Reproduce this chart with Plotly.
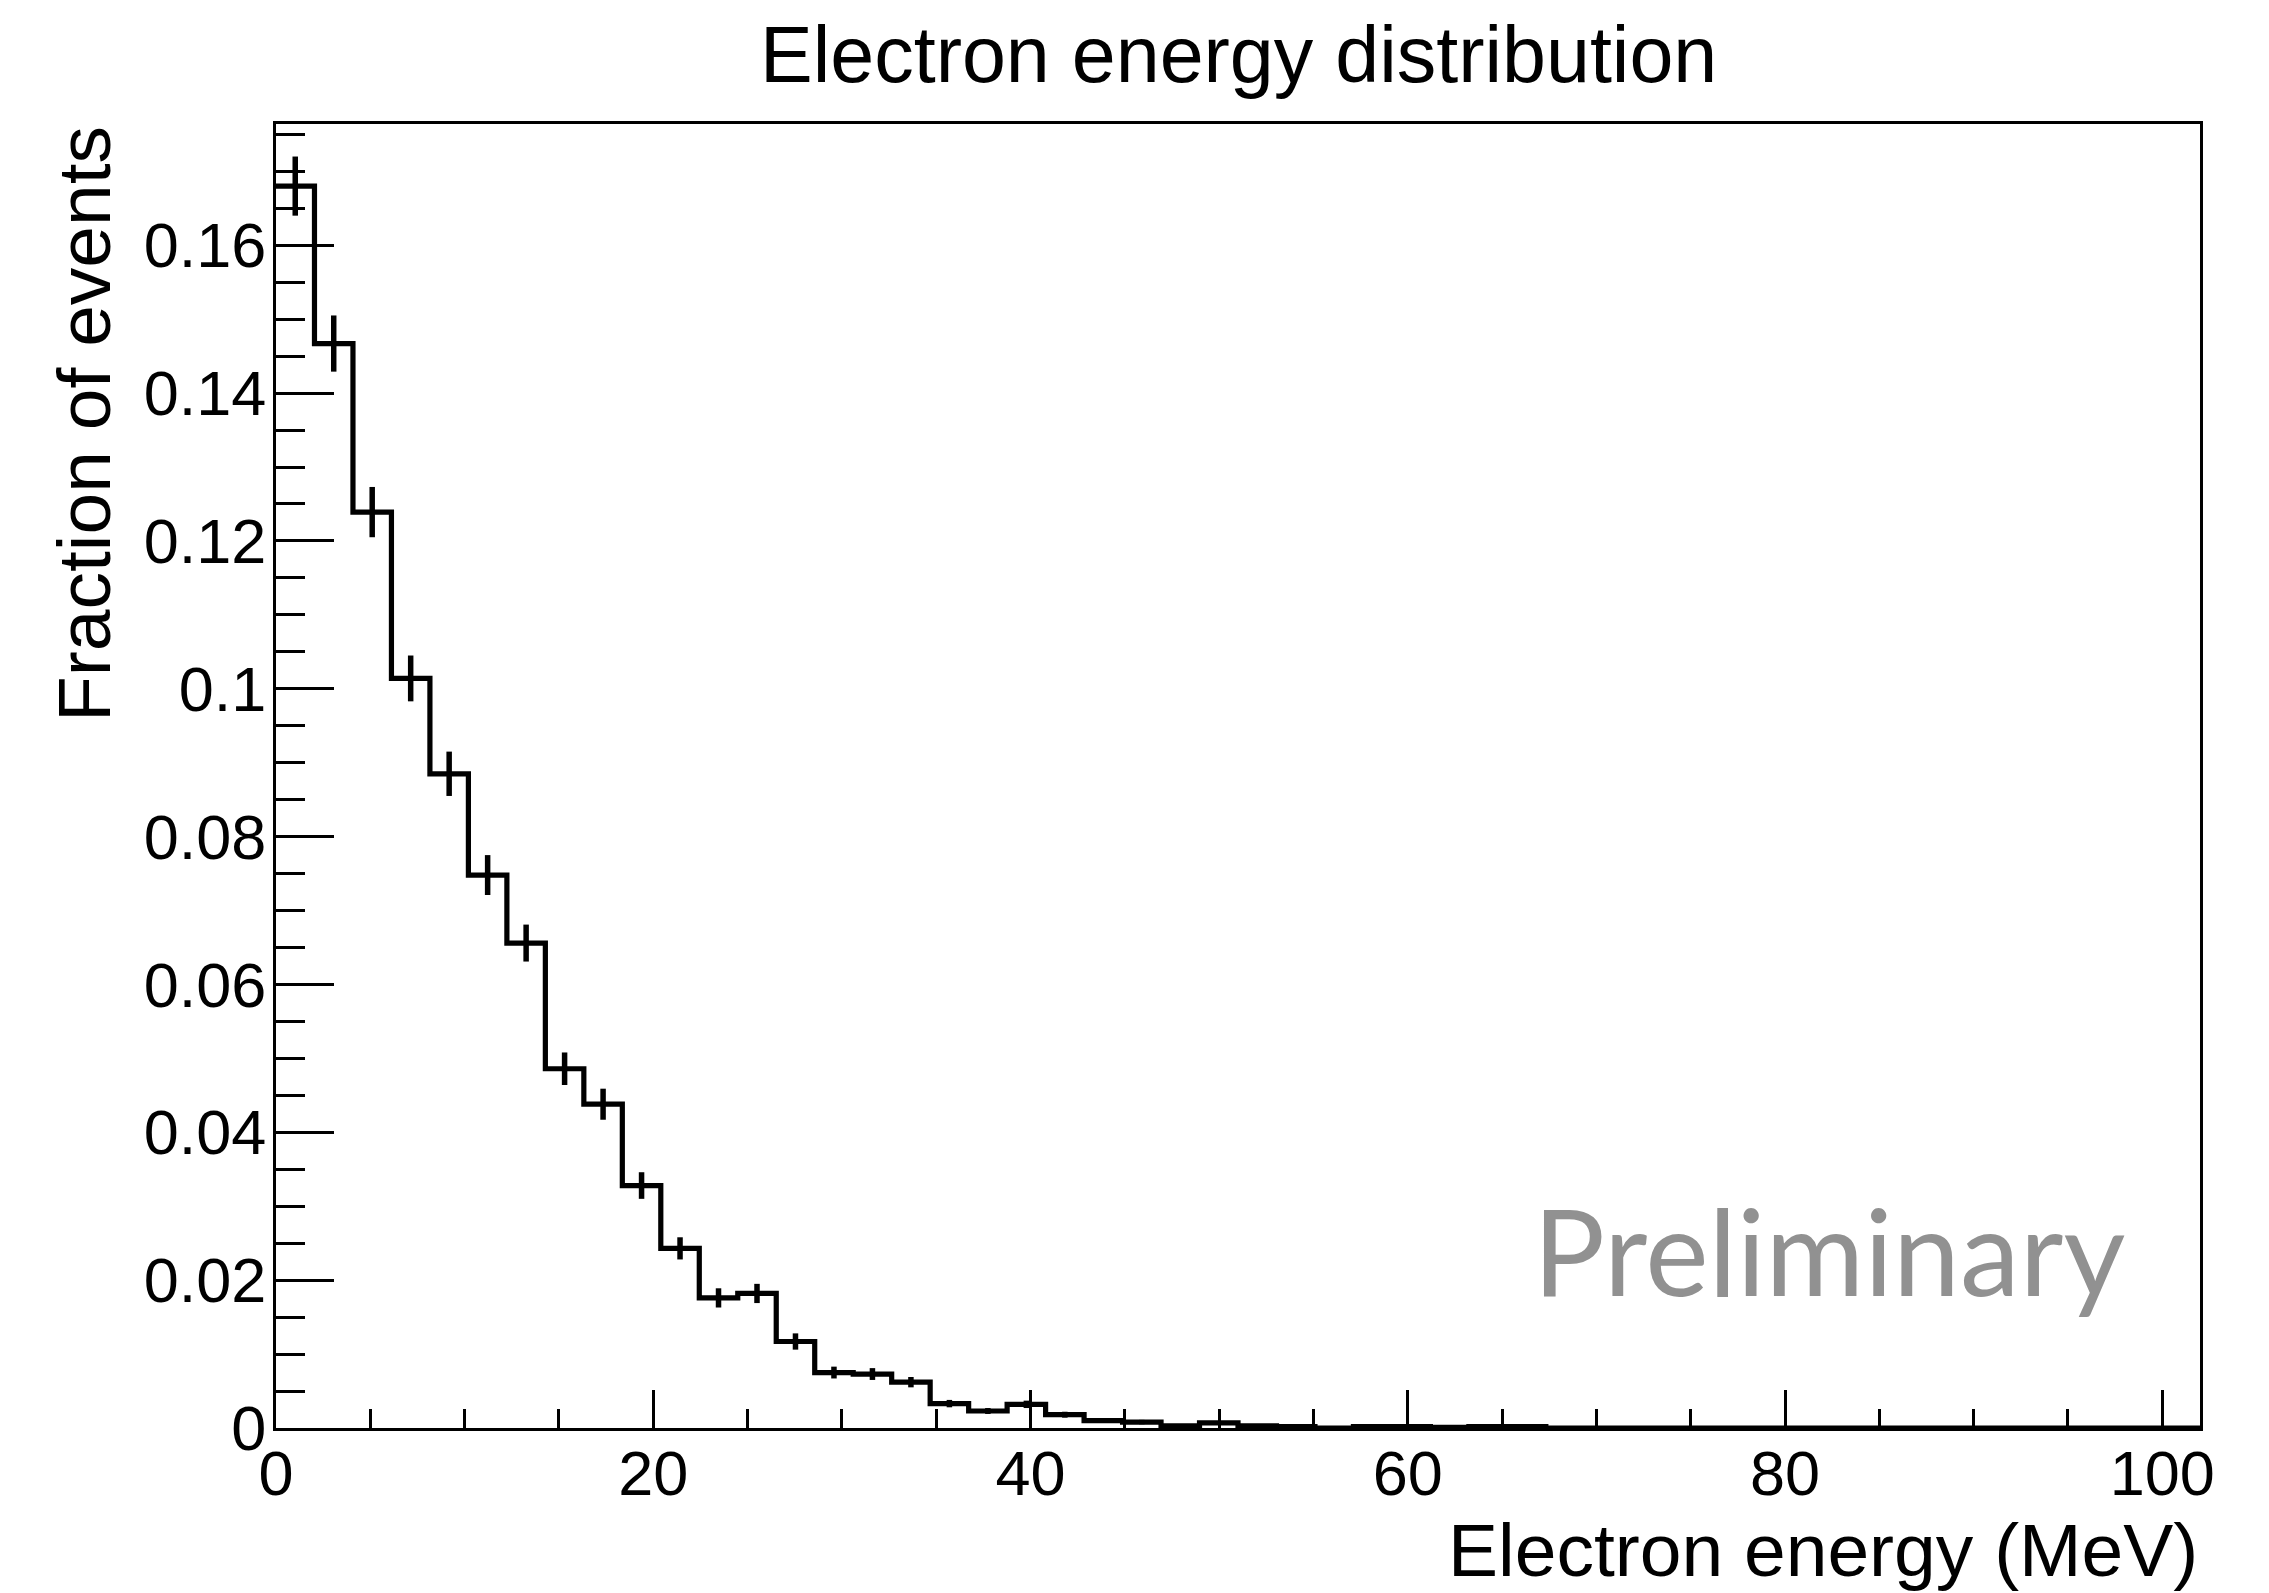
import plotly.graph_objects as go

# ---- data ----
bin_width = 2.04          # MeV, 50 bins from 0 to 102
fractions = [0.1680, 0.1467, 0.1239, 0.1014, 0.0885, 0.0748, 0.0656, 0.0486, 0.0438, 0.0328,
             0.0243, 0.0176, 0.0182, 0.0117, 0.0075, 0.0073, 0.0062, 0.0033, 0.0023, 0.0032,
             0.0018, 0.0010, 0.0008, 0.0003, 0.0007, 0.0003, 0.0002, 0.0000, 0.0002, 0.0002,
             0.0001, 0.0002, 0.0002, 0.0, 0.0, 0.0, 0.0, 0.0, 0.0, 0.0,
             0.0, 0.0, 0.0, 0.0, 0.0, 0.0, 0.0, 0.0, 0.0, 0.0]
errors = [0.0040, 0.0038, 0.0034, 0.0031, 0.0030, 0.0027, 0.0025, 0.0022, 0.0021, 0.0018,
          0.0015, 0.0013, 0.0013, 0.0011, 0.0008, 0.0008, 0.0007, 0.0005, 0.0004, 0.0005,
          0.0004, 0.0003, 0.0003, 0.0002, 0.0002, 0.0002, 0.0001, 0.0, 0.0001, 0.0001,
          0.0001, 0.0001, 0.0001, 0.0, 0.0, 0.0, 0.0, 0.0, 0.0, 0.0,
          0.0, 0.0, 0.0, 0.0, 0.0, 0.0, 0.0, 0.0, 0.0, 0.0]
x_tickvals = [0, 20, 40, 60, 80, 100]
x_ticktext = ["0", "20", "40", "60", "80", "100"]
y_tickvals = [0, 0.02, 0.04, 0.06, 0.08, 0.10, 0.12, 0.14, 0.16]
y_ticktext = ["0", "0.02", "0.04", "0.06", "0.08", "0.1", "0.12", "0.14", "0.16"]

title_text = "Electron energy distribution"
x_title = "Electron energy (MeV)"
y_title = "Fraction of events"
watermark = "Preliminary"

n_bins = len(fractions)
edges = [i * bin_width for i in range(n_bins + 1)]
centers = [(i + 0.5) * bin_width for i in range(n_bins)]

FONT = "Liberation Sans, Arial, Helvetica, sans-serif"

fig = go.Figure()
# histogram outline (step)
fig.add_trace(go.Scatter(
    x=edges, y=fractions + [fractions[-1]],
    mode="lines", line=dict(shape="hv", color="black", width=5.2),
    hoverinfo="skip", showlegend=False, cliponaxis=False,
))
# vertical error bars at bin centres
fig.add_trace(go.Scatter(
    x=centers, y=fractions, mode="markers",
    marker=dict(size=1, color="black", opacity=0),
    error_y=dict(type="data", array=errors, visible=True, color="black",
                 thickness=5.5, width=0),
    showlegend=False, cliponaxis=False,
))

fig.update_layout(
    width=2269, height=1593,
    margin=dict(l=276, r=69, t=124, b=165),
    paper_bgcolor="white", plot_bgcolor="white",
    font=dict(family=FONT, color="black", size=63),
    showlegend=False,
)

fig.update_xaxes(
    range=[0, 102], showgrid=False, zeroline=False,
    showline=True, linecolor="black", linewidth=3, mirror=True,
    ticks="inside", ticklen=38, tickwidth=2.8, tickcolor="black",
    tickvals=x_tickvals, ticktext=x_ticktext,
    tickfont=dict(size=63, family=FONT, color="black"),
    ticklabelstandoff=-12,
    minor=dict(ticks="inside", ticklen=19, tickwidth=2.8, tickcolor="black",
               dtick=5, tick0=0, showgrid=False),
)
fig.update_yaxes(
    range=[0, 0.1764], showgrid=False, zeroline=False,
    showline=True, linecolor="black", linewidth=3, mirror=True,
    ticks="inside", ticklen=58, tickwidth=2.8, tickcolor="black",
    tickvals=y_tickvals, ticktext=y_ticktext,
    tickfont=dict(size=63, family=FONT, color="black"),
    ticklabelstandoff=-6,
    minor=dict(ticks="inside", ticklen=29, tickwidth=2.8, tickcolor="black",
               dtick=0.005, tick0=0, showgrid=False),
)

# title
fig.add_annotation(text=title_text, xref="paper", yref="paper",
                   x=0.5, y=1 + (124 - 55) / 1304, xanchor="center", yanchor="middle",
                   showarrow=False, font=dict(size=79, family=FONT, color="black"))
# axis titles
fig.add_annotation(text=x_title, xref="paper", yref="paper",
                   x=1, y=-(1550 - 1428) / 1304, xanchor="right", yanchor="middle",
                   showarrow=False, font=dict(size=75, family=FONT, color="black"))
fig.add_annotation(text=y_title, xref="paper", yref="paper",
                   x=-(276 - 84) / 1924, y=1, xanchor="center", yanchor="top",
                   textangle=-90,
                   showarrow=False, font=dict(size=75, family=FONT, color="black"))
# watermark
fig.add_annotation(text=watermark, xref="paper", yref="paper",
                   x=(2127 - 276) / 1924, y=(1428 - 1250) / 1304,
                   xanchor="right", yanchor="middle",
                   showarrow=False, font=dict(size=120, family="Lato, Open Sans, sans-serif",
                                              color="#919191"))

fig.write_html("out.html")
